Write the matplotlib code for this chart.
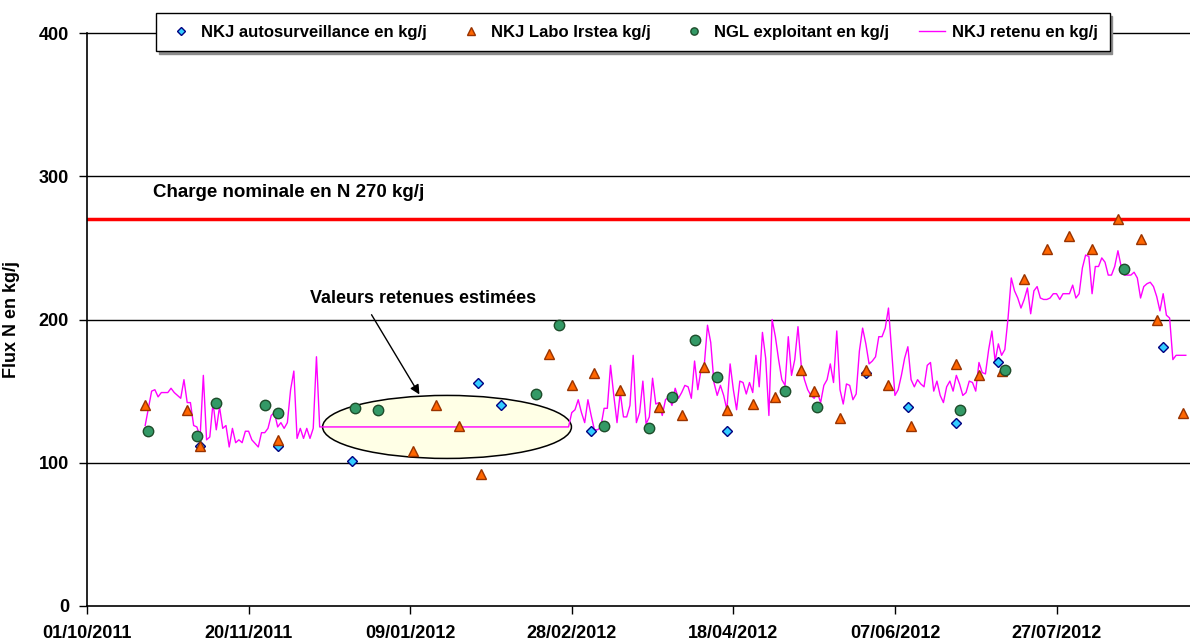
import numpy as np
import pandas as pd
import matplotlib
matplotlib.use('Agg')
import matplotlib.pyplot as plt
import matplotlib.dates as mdates
from matplotlib.patches import Ellipse

plt.rcParams['font.family'] = ['Liberation Sans', 'DejaVu Sans']
plt.rcParams['font.weight'] = 'bold'

debut = pd.Timestamp('2011-10-01')

# NKJ autosurveillance
auto_dates = ['2011-11-05', '2011-11-29', '2011-12-22', '2012-01-30', '2012-02-06', '2012-03-05',
              '2012-04-16', '2012-05-29', '2012-06-11', '2012-06-26', '2012-07-09', '2012-08-29']
auto_vals = [112, 112, 101, 156, 140, 122, 122, 163, 139, 128, 170, 181]

# NKJ labo Irstea
labo_dates = ['2011-10-19', '2011-11-01', '2011-11-05', '2011-11-29', '2012-01-10', '2012-01-17',
              '2012-01-24', '2012-01-31', '2012-02-21', '2012-02-28', '2012-03-06', '2012-03-14',
              '2012-03-26', '2012-04-02', '2012-04-09', '2012-04-16', '2012-04-24', '2012-05-01',
              '2012-05-09', '2012-05-13', '2012-05-21', '2012-05-29', '2012-06-05', '2012-06-12',
              '2012-06-26', '2012-07-03', '2012-07-10', '2012-07-17', '2012-07-24', '2012-07-31',
              '2012-08-07', '2012-08-15', '2012-08-22', '2012-08-27', '2012-09-04']
labo_vals = [140, 137, 112, 116, 108, 140, 126, 92, 176, 154, 163, 151,
             139, 133, 167, 137, 141, 146, 165, 150, 131, 165, 154, 126,
             169, 161, 164, 228, 249, 258, 249, 270, 256, 200, 135]

# NGL exploitant
ngl_dates = ['2011-10-20', '2011-11-04', '2011-11-10', '2011-11-25', '2011-11-29', '2011-12-23',
             '2011-12-30', '2012-02-17', '2012-02-24', '2012-03-09', '2012-03-23', '2012-03-30',
             '2012-04-06', '2012-04-13', '2012-05-04', '2012-05-14', '2012-06-27', '2012-07-11',
             '2012-08-17']
ngl_vals = [122, 119, 142, 140, 135, 138, 137, 148, 196, 126, 124, 146,
            186, 160, 150, 139, 137, 165, 235]

# NKJ retenu (jours depuis le 01/10/2011)
retenu_jours = [18, 20, 21, 22, 23, 25, 26, 27, 29, 30, 31, 32, 33, 34, 35, 36, 37, 38, 39, 40,
                41, 42, 43, 44, 45, 46, 47, 48, 49, 50, 51, 53, 54, 55, 56, 57, 58, 59, 60, 61,
                62, 63, 64, 65, 66, 67, 68, 69, 70, 71, 72,
                149, 150, 151, 152, 153, 154, 155, 156, 157, 158, 159, 160, 161, 162, 163, 164,
                165, 166, 167, 168, 169, 170, 171, 172, 173, 174, 175, 176, 177, 178, 179, 180,
                181, 182, 183, 184, 185, 186, 187, 188, 189, 190, 191, 192, 193, 194, 195, 196,
                197, 198, 199, 200, 201, 202, 203, 204, 205, 206, 207, 208, 209, 210, 211, 212,
                213, 214, 215, 216, 217, 218, 219, 220, 221, 222, 223, 224, 225, 226, 227, 228,
                229, 230, 231, 232, 233, 234, 235, 236, 237, 238, 239, 240, 241, 242, 243, 244,
                245, 246, 247, 248, 249, 250, 251, 252, 253, 254, 255, 256, 257, 258, 259, 260,
                261, 262, 263, 264, 265, 266, 267, 268, 269, 270, 271, 272, 273, 274, 275, 276,
                277, 278, 279, 280, 281, 282, 283, 284, 285, 286, 287, 288, 289, 290, 291, 292,
                293, 294, 295, 296, 297, 298, 299, 300, 301, 302, 303, 304, 305, 306, 307, 308,
                309, 310, 311, 312, 313, 314, 315, 316, 317, 318, 319, 320, 321, 322, 323, 324,
                325, 326, 327, 328, 329, 330, 331, 332, 333, 334, 335, 336, 337, 339, 340]
retenu_vals = [126, 150, 151, 146, 149, 149, 152, 149, 145, 158, 142, 142, 126, 125, 118, 161, 116, 118, 142, 123,
               139, 124, 126, 111, 124, 114, 116, 114, 122, 122, 116, 111, 121, 121, 124, 133, 135, 125, 128, 124,
               128, 151, 164, 117, 124, 117, 124, 117, 124, 174, 125,
               125, 135, 137, 144, 135, 128, 144, 133, 123, 123, 125, 138, 138, 168, 147, 128,
               149, 132, 132, 140, 175, 128, 135, 157, 127, 132, 159, 141, 142, 133, 144, 146,
               140, 152, 145, 149, 154, 153, 145, 171, 151, 165, 168, 196, 184, 156, 147, 154,
               147, 137, 169, 151, 137, 157, 156, 148, 156, 149, 175, 153, 191, 173, 133, 200,
               188, 172, 158, 154, 188, 161, 172, 195, 168, 158, 151, 147, 145, 149, 142, 154,
               158, 169, 156, 192, 151, 141, 155, 154, 144, 148, 178, 194, 183, 169, 171, 174,
               188, 188, 194, 208, 177, 147, 151, 161, 173, 181, 158, 153, 158, 155, 153, 168,
               170, 150, 157, 147, 142, 153, 157, 150, 161, 155, 147, 149, 157, 156, 150, 170,
               163, 162, 179, 192, 171, 183, 175, 179, 201, 229, 220, 215, 208, 214, 222, 204,
               220, 223, 215, 214, 214, 215, 218, 218, 214, 218, 218, 218, 224, 215, 218, 236,
               245, 244, 218, 237, 237, 243, 240, 231, 231, 237, 248, 237, 231, 231, 231, 233,
               229, 215, 223, 225, 226, 223, 216, 206, 218, 203, 201, 172, 175, 175, 175]

charge_nominale = 270
tick_labels = ['01/10/2011', '20/11/2011', '09/01/2012', '28/02/2012', '18/04/2012', '07/06/2012', '27/07/2012']

fig = plt.figure(figsize=(11.9, 6.43), dpi=100)
ax = fig.add_axes([87 / 1190, 37 / 643, 1103 / 1190, 573 / 643])

for y in [100, 200, 300, 400]:
    ax.axhline(y, color='black', lw=1, clip_on=False, zorder=0.5)
ax.axhline(charge_nominale, color='#FF0000', lw=2.5, zorder=1)

# ellipse des valeurs estimees
ex = mdates.date2num(debut + pd.Timedelta(days=111.4))
ell = Ellipse((ex, 125), width=77, height=44, facecolor='#FFFFE6', edgecolor='black', lw=1.1, zorder=1.5)
ax.add_patch(ell)

retenu_dates = debut + pd.to_timedelta(retenu_jours, unit='D')
ax.plot(retenu_dates, retenu_vals, color='#FF00FF', lw=1, zorder=2, label='NKJ retenu en kg/j')

ax.plot(pd.to_datetime(auto_dates), auto_vals, ls='none', marker='D', ms=5.5, mfc='#33CCFF', mec='#000080',
        mew=1, zorder=3, label='NKJ autosurveillance en kg/j')
ax.plot(pd.to_datetime(labo_dates), labo_vals, ls='none', marker='^', ms=7.5, mfc='#FF6600', mec='#993300',
        mew=1, zorder=4, label='NKJ Labo Irstea kg/j')
ax.plot(pd.to_datetime(ngl_dates), ngl_vals, ls='none', marker='o', ms=7.5, mfc='#339966', mec='#1E4D2B',
        mew=1, zorder=5, label='NGL exploitant en kg/j')

ax.text(debut + pd.Timedelta(days=20.4), 289, 'Charge nominale en N 270 kg/j', fontsize=13.5,
        fontweight='bold', va='center', ha='left')
ax.text(debut + pd.Timedelta(days=104), 215, 'Valeurs retenues estimées', fontsize=13,
        fontweight='bold', va='center', ha='center')
ax.annotate('', xy=(debut + pd.Timedelta(days=103.3), 146), xytext=(debut + pd.Timedelta(days=87.6), 205),
            arrowprops=dict(arrowstyle='-|>', color='black', lw=1, mutation_scale=14))

ax.set_xlim(debut, debut + pd.Timedelta(days=341.3))
ax.set_ylim(0, 400)
ax.set_xticks(pd.to_datetime(tick_labels, format='%d/%m/%Y'))
ax.set_xticklabels(tick_labels)
ax.set_yticks([0, 100, 200, 300, 400])
ax.tick_params(axis='both', labelsize=13, length=6, width=1, color='black', direction='out')
ax.tick_params(axis='x', pad=8)
ax.tick_params(axis='y', pad=7)
for lab in ax.get_xticklabels() + ax.get_yticklabels():
    lab.set_fontweight('bold')

ax.set_ylabel('Flux N en kg/j', fontsize=13, fontweight='bold')
ax.yaxis.set_label_coords(-0.0607, 0.5)

ax.spines['top'].set_visible(False)
ax.spines['right'].set_visible(False)
ax.spines['left'].set_linewidth(1.2)
ax.spines['bottom'].set_linewidth(1.2)

h, l = ax.get_legend_handles_labels()
order = [1, 2, 3, 0]
leg = fig.legend([h[i] for i in order], [l[i] for i in order], loc='upper center', ncol=4,
                 bbox_to_anchor=(633 / 1190, 1 - 13 / 643), fontsize=12, markerscale=0.7,
                 handlelength=1.6, handletextpad=0.4, columnspacing=1.8, frameon=True,
                 fancybox=False, borderpad=0.7, borderaxespad=0,
                 shadow={'color': '0.55', 'alpha': 1})
leg.get_frame().set_edgecolor('black')
leg.get_frame().set_linewidth(1)
for t in leg.get_texts():
    t.set_fontweight('bold')

fig.savefig('out.png', dpi=100)
